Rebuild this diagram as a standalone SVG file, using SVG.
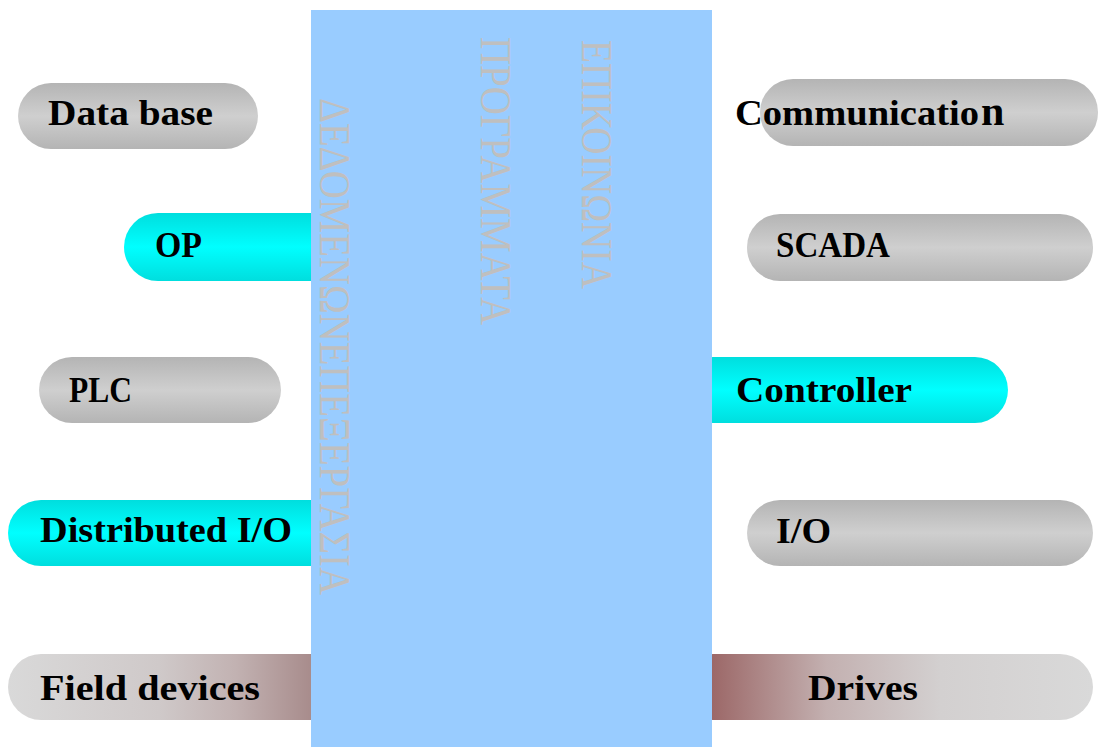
<svg xmlns="http://www.w3.org/2000/svg" width="1098" height="747" viewBox="0 0 1098 747">
<defs>
<linearGradient id="gGray" x1="0" y1="0" x2="0" y2="1">
<stop offset="0" stop-color="#b4b4b4"/><stop offset="0.5" stop-color="#cfcfcf"/><stop offset="1" stop-color="#b4b4b4"/>
</linearGradient>
<linearGradient id="gCyan" x1="0" y1="0" x2="0" y2="1">
<stop offset="0" stop-color="#00dede"/><stop offset="0.5" stop-color="#00ffff"/><stop offset="1" stop-color="#00dede"/>
</linearGradient>
<linearGradient id="gField" gradientUnits="userSpaceOnUse" x1="8" y1="0" x2="311" y2="0">
<stop offset="0" stop-color="#d9d9d9"/><stop offset="0.5" stop-color="#cfc9c9"/><stop offset="0.75" stop-color="#c2b2b2"/><stop offset="1" stop-color="#a88c8c"/>
</linearGradient>
<linearGradient id="gDrives" gradientUnits="userSpaceOnUse" x1="712" y1="0" x2="1093" y2="0">
<stop offset="0" stop-color="#9c6868"/><stop offset="0.3" stop-color="#c3b0b0"/><stop offset="0.6" stop-color="#d3d0d0"/><stop offset="1" stop-color="#d9d9d9"/>
</linearGradient>
</defs>
<style>
.lbl{font-family:"Liberation Serif","Times New Roman",serif;font-weight:bold;font-size:36px;fill:#000}
.gr{font-family:"Liberation Serif","Times New Roman",serif;font-size:44px;fill:#bfbfbf}
</style>
<rect width="1098" height="747" fill="#ffffff"/>
<g id="connectors"/>
<g id="node-database"><rect x="18" y="83" width="240" height="66" rx="33" fill="url(#gGray)"/><text class="lbl" x="48" y="125" textLength="165" lengthAdjust="spacingAndGlyphs">Data base</text></g>
<g id="node-op"><rect x="124" y="213" width="230" height="68" rx="34" fill="url(#gCyan)"/></g>
<g id="node-plc"><rect x="39" y="357" width="242" height="66" rx="33" fill="url(#gGray)"/><text class="lbl" x="69" y="402" textLength="63" lengthAdjust="spacingAndGlyphs">PLC</text></g>
<g id="node-distio"><rect x="8" y="500" width="340" height="66" rx="33" fill="url(#gCyan)"/></g>
<g id="node-field"><rect x="8" y="654" width="340" height="66" rx="33" fill="url(#gField)"/></g>
<g id="node-communication"><rect x="760" y="79" width="338" height="67" rx="33" fill="url(#gGray)"/></g>
<g id="node-scada"><rect x="747" y="214" width="346" height="67" rx="33" fill="url(#gGray)"/><text class="lbl" x="776" y="257" textLength="114" lengthAdjust="spacingAndGlyphs">SCADA</text></g>
<g id="node-controller"><rect x="680" y="357" width="328" height="66" rx="33" fill="url(#gCyan)"/></g>
<g id="node-io"><rect x="747" y="500" width="346" height="66" rx="33" fill="url(#gGray)"/><text class="lbl" x="776" y="543" textLength="55" lengthAdjust="spacingAndGlyphs">I/O</text></g>
<g id="node-drives"><rect x="680" y="654" width="413" height="66" rx="33" fill="url(#gDrives)"/></g>
<g id="node-center">
<rect x="311" y="10" width="401" height="737" fill="#99ccff"/>
<text class="gr" transform="translate(320,98) rotate(90)" textLength="497" lengthAdjust="spacingAndGlyphs">ΔΕΔΟΜΕΝΩΝΕΠΕΞΕΡΓΑΣΙΑ</text>
<text class="gr" transform="translate(481,37) rotate(90)" textLength="288" lengthAdjust="spacingAndGlyphs">ΠΡΟΓΡΑΜΜΑΤΑ</text>
<text class="gr" transform="translate(582,40) rotate(90)" textLength="249" lengthAdjust="spacingAndGlyphs">ΕΠΙΚΟΙΝΩΝΙΑ</text>
</g>
<g id="labels-overlap">
<text class="lbl" x="155" y="257" textLength="47" lengthAdjust="spacingAndGlyphs">OP</text>
<text class="lbl" x="40" y="542" textLength="252" lengthAdjust="spacingAndGlyphs">Distributed I/O</text>
<text class="lbl" x="40" y="700" textLength="220" lengthAdjust="spacingAndGlyphs">Field devices</text>
<text class="lbl" x="735" y="125"><tspan textLength="244" lengthAdjust="spacingAndGlyphs">Communicatio</tspan><tspan x="981" font-size="42">n</tspan></text>
<text class="lbl" x="736" y="402" textLength="176" lengthAdjust="spacingAndGlyphs">Controller</text>
<text class="lbl" x="808" y="700" textLength="110" lengthAdjust="spacingAndGlyphs">Drives</text>
</g>
</svg>
